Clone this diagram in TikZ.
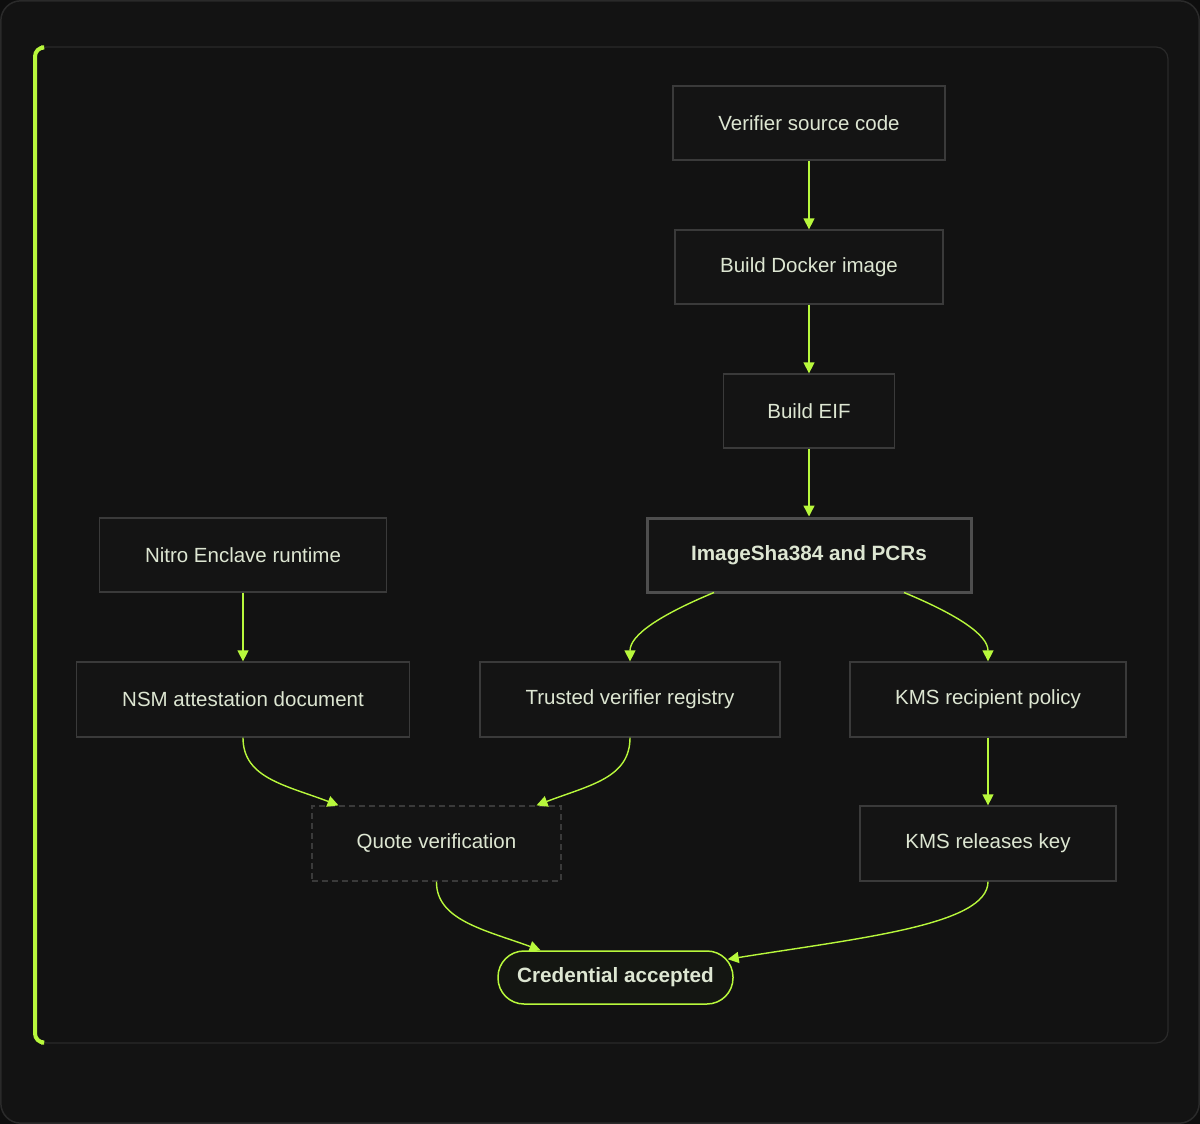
\documentclass[tikz,border=0pt]{standalone}
\usepackage{fontspec}
\setmainfont{Liberation Sans}
\usetikzlibrary{arrows.meta,calc}
\definecolor{bgout}{HTML}{0E0E0E}
\definecolor{frame}{HTML}{131313}
\definecolor{framebd}{HTML}{2A2A2A}
\definecolor{panel}{HTML}{121212}
\definecolor{boxfill}{HTML}{141414}
\definecolor{boxbd}{HTML}{3A3A3A}
\definecolor{lime}{HTML}{B8F83C}
\definecolor{txt}{HTML}{DDE6D2}
\definecolor{pillfill}{HTML}{141612}
\tikzset{
  stepbox/.style={draw=boxbd, line width=1.3pt, fill=boxfill, text=txt, font=\fontsize{20.5}{24}\selectfont, minimum height=74pt, inner sep=0pt},
  keybox/.style={stepbox, line width=3pt, draw=boxbd!90!white, font=\fontsize{20.7}{24}\selectfont\bfseries},
  dashbox/.style={stepbox, dashed, dash pattern=on 6pt off 4pt},
  pillbox/.style={draw=lime, line width=1.5pt, fill=pillfill, text=txt, rounded corners=26pt, font=\fontsize{20.7}{24}\selectfont\bfseries, minimum height=53pt, minimum width=235pt, inner sep=0pt},
  flow/.style={draw=lime, line width=1.4pt, -{Triangle[length=11pt,width=11pt]}},
}
\begin{document}
\begin{tikzpicture}[x=1pt,y=-1pt]
\useasboundingbox (0,0) rectangle (1200,1124);
\fill[bgout] (0,0) rectangle (1200,1124);
\draw[fill=frame, draw=framebd, line width=1.5pt, rounded corners=20pt] (0.8,0.8) rectangle (1199.2,1123.2);
\draw[fill=panel, draw=framebd, line width=1.2pt, rounded corners=12pt] (35,47) rectangle (1168,1043);
\draw[lime, line width=4pt, rounded corners=9pt] (41,47.5) -- (35,47.5) -- (35,1042.5) -- (41,1042.5);

\node[stepbox, minimum width=272pt] (src) at (809,123) {Verifier source code};
\node[stepbox, minimum width=268pt] (docker) at (809,267) {Build Docker image};
\node[stepbox, minimum width=171pt] (eif) at (809,411) {Build EIF};
\node[keybox, minimum width=324pt, minimum height=74pt] (img) at (809,555) {ImageSha384 and PCRs};
\node[stepbox, minimum width=287pt] (nitro) at (243,555) {Nitro Enclave runtime};
\node[stepbox, minimum width=333pt, minimum height=75pt] (nsm) at (243,699.5) {NSM attestation document};
\node[stepbox, minimum width=300pt, minimum height=75pt] (reg) at (630,699.5) {Trusted verifier registry};
\node[stepbox, minimum width=276pt, minimum height=75pt] (kmsp) at (988,699.5) {KMS recipient policy};
\node[dashbox, minimum width=249pt, minimum height=75pt] (quote) at (436.5,843.5) {Quote verification};
\node[stepbox, minimum width=256pt, minimum height=75pt] (kmsr) at (988,843.5) {KMS releases key};
\node[pillbox] (cred) at (615.5,977.5) {Credential accepted};

\draw[flow] (src.south) -- (docker.north);
\draw[flow] (docker.south) -- (eif.north);
\draw[flow] (eif.south) -- (img.north);
\draw[flow] (nitro.south) -- (nsm.north);
\draw[flow] (kmsp.south) -- (kmsr.north);
\draw[flow] ([xshift=-95pt,yshift=1pt]img.south) .. controls (660,615) and (630,635) .. (reg.north);
\draw[flow] ([xshift=95pt,yshift=1pt]img.south) .. controls (958,615) and (988,635) .. (kmsp.north);
\draw[flow] (nsm.south) .. controls (243,778) and (285,785) .. ([xshift=-98pt]quote.north);
\draw[flow] (reg.south) .. controls (630,778) and (590,785) .. ([xshift=100pt]quote.north);
\draw[flow] (quote.south) .. controls (436,920) and (485,930) .. ([xshift=-75pt]cred.north);
\draw[flow] (kmsr.south) .. controls (988,925) and (860,938) .. ([xshift=-6pt,yshift=-9pt]cred.north east);
\end{tikzpicture}
\end{document}
